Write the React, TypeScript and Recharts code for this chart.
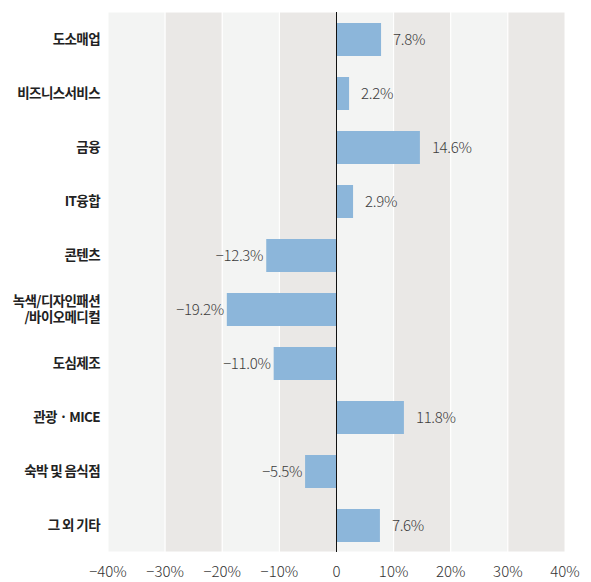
import { BarChart, Bar, XAxis, YAxis, ReferenceArea, ReferenceLine, LabelList } from "recharts"

const categories = [
  "도소매업",
  "비즈니스서비스",
  "금융",
  "IT융합",
  "콘텐츠",
  "녹색/디자인패션\n/바이오메디컬",
  "도심제조",
  "관광 · MICE",
  "숙박 및 음식점",
  "그 외 기타",
]
const values = [7.8, 2.2, 14.6, 2.9, -12.3, -19.2, -11.0, 11.8, -5.5, 7.6]
const xTicks = [-40, -30, -20, -10, 0, 10, 20, 30, 40]

const data = categories.map((name, i) => ({ name, value: values[i] }))

const LIGHT = "#f3f4f3"
const DARK = "#eae8e6"
const BAR = "#8cb6da"
const FONT = "'Noto Sans CJK KR', 'Noto Sans', sans-serif"

const fmt = (v: number) => (v < 0 ? "\u2212" : "") + Math.abs(v).toFixed(1) + "%"
const tickFmt = (v: number) => (v === 0 ? "0" : (v < 0 ? "\u2212" : "") + Math.abs(v) + "%")

function CategoryTick({ x, y, payload }: any) {
  const lines = String(payload.value).split("\n")
  const lh = 16
  const start = -((lines.length - 1) * lh) / 2
  return (
    <text
      x={x}
      y={y}
      textAnchor="end"
      fill="#222"
      fontSize={13.5}
      fontWeight={700}
      letterSpacing={-0.6}
      fontFamily={FONT}
    >
      {lines.map((l, i) => (
        <tspan key={i} x={x} dy={i === 0 ? start + 5 : lh}>
          {l}
        </tspan>
      ))}
    </text>
  )
}

function ValueLabel({ x, y, width, height, value }: any) {
  const neg = value < 0
  const end = x + width
  const tx = neg ? Math.min(x, end) - 3 : Math.max(x, end) + 12
  return (
    <text
      x={tx}
      y={y + height / 2 + 5}
      textAnchor={neg ? "end" : "start"}
      fill="#3c3c3c"
      fontSize={15}
      fontWeight={300}
      letterSpacing={-0.3}
      fontFamily={FONT}
    >
      {fmt(value)}
    </text>
  )
}

export default function App() {
  const bands = xTicks.slice(0, -1).map((t, i) => ({ x1: t, x2: xTicks[i + 1], fill: i % 2 === 0 ? LIGHT : DARK }))
  return (
    <BarChart
      width={583}
      height={574}
      data={data}
      layout="vertical"
      margin={{ top: 4, right: 26, left: 0, bottom: 0 }}
    >
      {bands.map((b, i) => (
        <ReferenceArea key={i} x1={b.x1} x2={b.x2} fill={b.fill} fillOpacity={1} stroke="#ffffff" strokeWidth={1} />
      ))}
      <XAxis
        type="number"
        domain={[-40, 40]}
        ticks={xTicks}
        tickFormatter={tickFmt}
        axisLine={false}
        tickLine={false}
        height={30}
        tick={{ fontSize: 15, fill: "#333", fontFamily: FONT, fontWeight: 300 }}
        tickMargin={8}
      />
      <YAxis type="category" dataKey="name" width={100} axisLine={false} tickLine={false} tick={<CategoryTick />} />
      <Bar dataKey="value" fill={BAR} barSize={33} isAnimationActive={false}>
        <LabelList dataKey="value" content={<ValueLabel />} />
      </Bar>
      <ReferenceLine x={0} stroke="#111" strokeWidth={1} />
    </BarChart>
  )
}
